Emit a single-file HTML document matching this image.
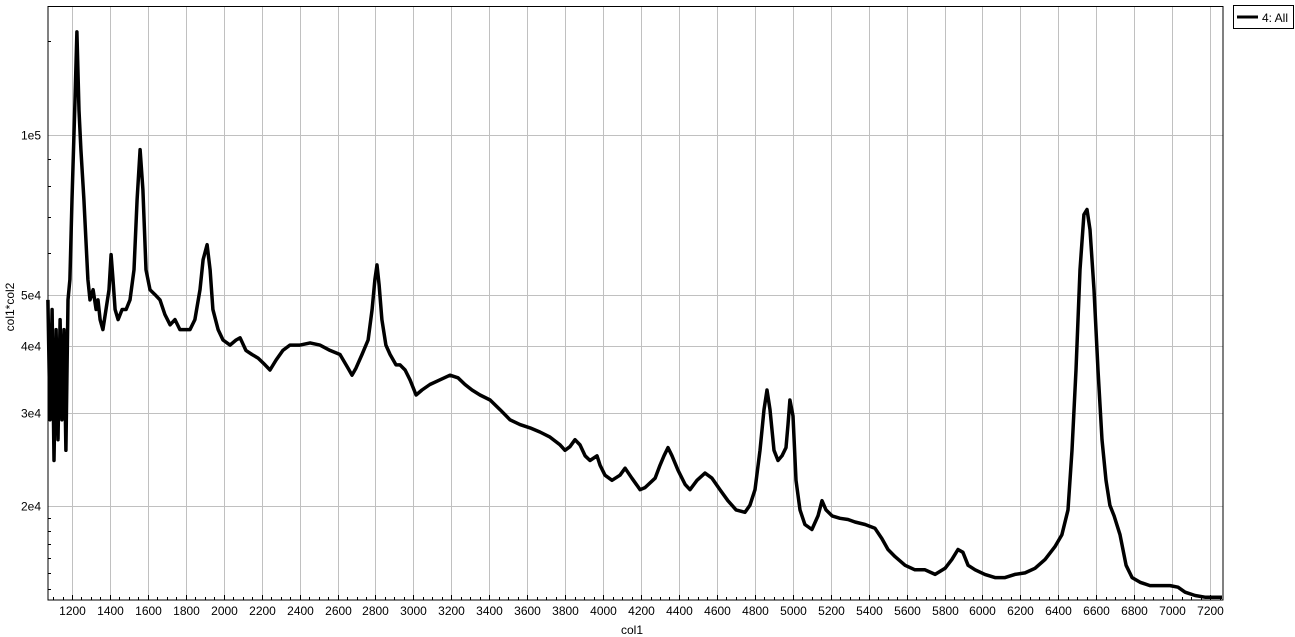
<!DOCTYPE html>
<html><head><meta charset="utf-8">
<style>
html,body{margin:0;padding:0;background:#fff;}
svg{display:block;font-family:"Liberation Sans","DejaVu Sans",sans-serif;}
</style></head>
<body>
<svg id="chart" width="1295" height="637" viewBox="0 0 1295 637">
  <g id="grid"></g>
  <g id="axes"></g>
  <path id="series" fill="none" stroke="#000" stroke-width="3.5" stroke-linejoin="round"></path>
  <rect x="48" y="6.5" width="1175" height="593.5" fill="none" stroke="#000" stroke-width="1"></rect>
  <text x="632" y="634" font-size="12" text-anchor="middle">col1</text>
  <text x="14" y="307" font-size="12" text-anchor="middle" transform="rotate(-90 14 307)">col1*col2</text>
  <g>
    <rect x="1233.5" y="5.5" width="60" height="23" fill="#fff" stroke="#000"></rect>
    <line x1="1237" y1="17" x2="1258" y2="17" stroke="#000" stroke-width="3"></line>
    <text x="1262" y="22" font-size="12">4: All</text>
  </g>
</svg>
<script>
const xTicks = [1200,1400,1600,1800,2000,2200,2400,2600,2800,3000,3200,3400,3600,3800,4000,4200,4400,4600,4800,5000,5200,5400,5600,5800,6000,6200,6400,6600,6800,7000,7200];
const yTicks = [20000,30000,40000,50000,100000];
const yTickLabels = ["2e4","3e4","4e4","5e4","1e5"];
const wavelengths = [
1073,1084,1095,1105,1116,1126,1137,1147,1158,1168,
1179,1189,1200,1216,1226,1237,1247,1263,1284,1295,
1311,1327,1337,1348,1363,1379,1395,1406,1416,1427,
1443,1464,1485,1506,1527,1543,1559,1574,1590,1611,
1638,1664,1690,1717,1743,1769,1796,1822,1848,1875,
1891,1912,1928,1943,1970,1996,2033,2065,2086,2117,
2149,2181,2218,2244,2276,2312,2349,2402,2455,2507,
2560,2613,2655,2676,2697,2729,2761,2782,2797,2808,
2819,2834,2855,2877,2908,2929,2956,2982,3014,3045,
3087,3140,3193,3235,3272,3309,3351,3404,3457,3509,
3562,3615,3667,3720,3773,3799,3825,3852,3878,3905,
3931,3968,3984,4010,4047,4089,4116,4152,4195,4221,
4274,4300,4321,4342,4363,4395,4432,4458,4495,4537,
4574,4616,4658,4701,4748,4774,4801,4827,4848,4864,
4880,4901,4922,4943,4964,4975,4985,5001,5017,5038,
5064,5101,5133,5154,5175,5207,5249,5291,5328,5381,
5433,5470,5502,5539,5592,5644,5697,5750,5803,5839,
5871,5897,5924,5961,6013,6066,6119,6171,6224,6277,
6330,6382,6419,6451,6472,6493,6514,6535,6551,6567,
6588,6609,6630,6651,6672,6694,6725,6757,6789,6831,
6883,6936,6989,7031,7068,7121,7173,7226,7263];
const intensities = [
48900,29100,46900,24400,43000,26700,44900,29100,43000,25500,
48900,53400,75500,116000,156000,111000,93700,75500,53400,48900,
51100,46900,48900,44900,43000,46900,51100,59500,53400,46900,
44900,46900,46900,48900,55700,75500,93700,78800,55700,51100,
50000,48900,45900,43900,44900,43000,43000,43000,44900,51100,
58200,62100,55700,46900,43000,41100,40200,41100,41500,39300,
38600,38000,36900,36100,37700,39300,40200,40200,40600,40200,
39300,38600,36400,35300,36400,38600,41100,46900,53400,56900,
52200,44900,40200,38600,36900,36900,36100,34600,32400,33100,
33900,34600,35300,34900,33900,33100,32400,31700,30400,29100,
28500,28100,27600,27000,26100,25500,25900,26700,26100,24900,
24400,24900,23900,22900,22400,22900,23600,22600,21500,21700,
22600,23900,24900,25800,24900,23400,22000,21500,22400,23100,
22600,21500,20500,19700,19500,20100,21500,25500,30400,33100,
30400,25500,24400,24900,25800,28500,31700,29600,22400,19700,
18500,18100,19200,20500,19700,19200,19000,18900,18700,18500,
18200,17400,16600,16100,15500,15200,15200,14900,15300,15900,
16600,16400,15500,15200,14900,14700,14700,14900,15000,15300,
15900,16800,17700,19700,25500,36100,55700,70700,72300,66300,
51100,36100,26700,22400,20100,19200,17700,15500,14700,14400,
14200,14200,14200,14100,13800,13600,13500,13500,13500];

const L=48, R=1223, T=6.5, B=600;
const xPerPx=5.272;
const yMinLog=Math.log10(13340), yMaxLog=Math.log10(174100);
function xs(v){ return 72 + (v - 1200) / xPerPx; }
function ys(v){ return B - (Math.log10(v) - yMinLog) / (yMaxLog - yMinLog) * (B - T); }

const NS="http://www.w3.org/2000/svg";
const grid=document.getElementById('grid');
const axes=document.getElementById('axes');
function mk(tag, attrs, parent){ const e=document.createElementNS(NS,tag); for(const k in attrs) e.setAttribute(k, attrs[k]); parent.appendChild(e); return e; }

xTicks.forEach(t=>{
  const x=Math.round(xs(t))+0.5;
  const g=mk('line',{x1:x,x2:x,y1:T,y2:B,stroke:'#c0c0c0','stroke-width':1},grid);
  
  
  const tk=mk('line',{x1:x,x2:x,y1:B,y2:B-5,stroke:'#000'},axes);
  
  
  const lb=mk('text',{x:x,y:615,'font-size':12,'text-anchor':'middle'},axes);
  lb.textContent=String(t);
  
  
});
for(let v=1100; v<=7250; v+=50){
  if(v%200===0) continue;
  const x=Math.round(xs(v))+0.5;
  if(x<L||x>R) continue;
  const m=mk('line',{x1:x,x2:x,y1:B,y2:B-3,stroke:'#000'},axes);
  
  
}
yTicks.forEach((t,i)=>{
  const y=Math.round(ys(t))+0.5;
  const g=mk('line',{x1:L,x2:R,y1:y,y2:y,stroke:'#c0c0c0','stroke-width':1},grid);
  
  
  const lb=mk('text',{x:41,y:y+4,'font-size':12,'text-anchor':'end'},axes);
  lb.textContent=yTickLabels[i];
  
  
});
[14000,15000,16000,17000,18000,19000,60000,70000,80000,90000,150000].forEach(v=>{
  const y=Math.round(ys(v))+0.5;
  const m=mk('line',{x1:L,x2:L+3,y1:y,y2:y,stroke:'#000'},axes);
  
  
});

let d='';
wavelengths.forEach((w,i)=>{ d += (i?'L':'M') + xs(w).toFixed(1) + ',' + ys(intensities[i]).toFixed(1); });
document.getElementById('series').setAttribute('d', d);
</script>
</body></html>
